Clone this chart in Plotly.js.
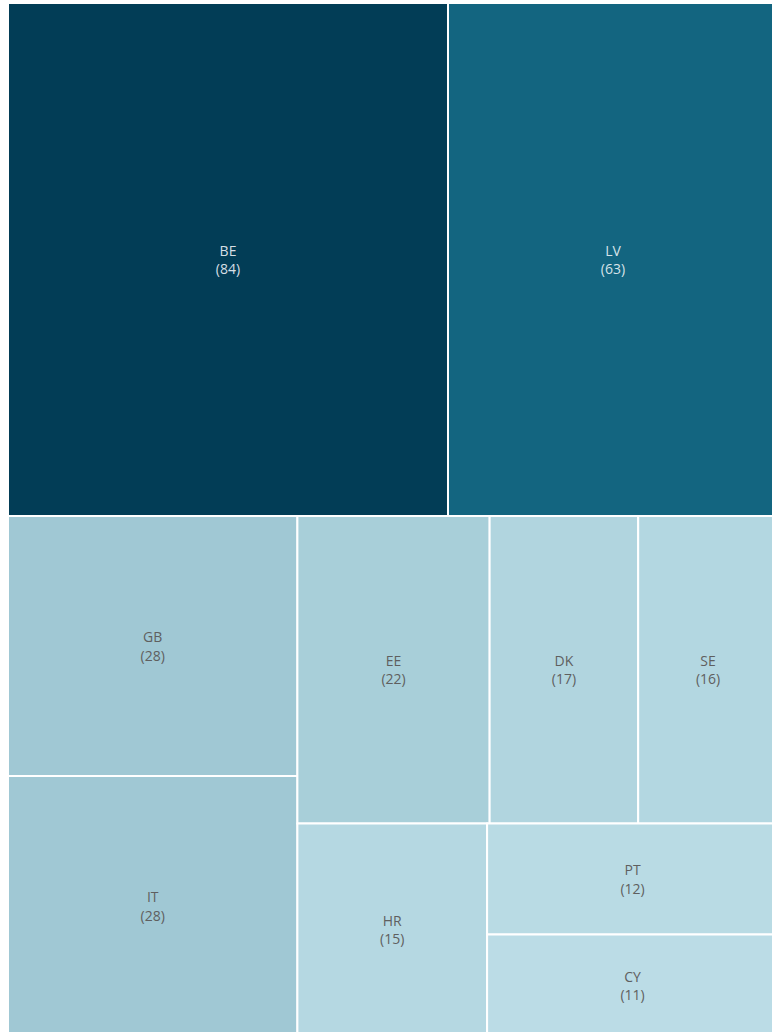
<!DOCTYPE html>
<html>
<head>
<meta charset="utf-8">
<script src="https://cdn.plot.ly/plotly-3.0.1.min.js"></script>
<style>html,body{margin:0;padding:0;background:#fff;overflow:hidden;}#chart{width:778px;height:1036px;}</style>
</head>
<body>
<div id="chart"></div>
<script>
const labels = ["BE", "LV", "GB", "IT", "EE", "DK", "SE", "HR", "PT", "CY"];
const values = [84, 63, 28, 28, 22, 17, 16, 15, 12, 11];
const colors = ["#023d56", "#136580", "#a0c8d4", "#a0c8d4", "#a8cfd9", "#b1d5df", "#b3d7e1", "#b5d8e2", "#b9dbe4", "#bbdce6"];
const textColors = ["#d6dfe5", "#d6e2e8", "#5f5f5f", "#5f5f5f", "#5f5f5f", "#5f5f5f", "#5f5f5f", "#5f5f5f", "#5f5f5f", "#5f5f5f"];

const trace = {
  type: "treemap",
  labels: labels,
  parents: labels.map(() => ""),
  values: values,
  branchvalues: "total",
  sort: true,
  texttemplate: "%{label}<br>(%{value})",
  textposition: "middle center",
  textfont: {family: "Open Sans, Lato, sans-serif", size: 14, color: textColors},
  marker: {colors: colors, line: {color: "#ffffff", width: 2}, pad: {t: 0, l: 0, r: 0, b: 0}},
  tiling: {packing: "squarify", squarifyratio: 1.618034, pad: 0},
  pathbar: {visible: false},
  hoverinfo: "label+value"
};

const layout = {
  width: 778,
  height: 1036,
  margin: {l: 8, r: 0, t: 3, b: 0},
  paper_bgcolor: "#ffffff",
  showlegend: false
};

Plotly.newPlot("chart", [trace], layout, {displayModeBar: false, staticPlot: true});
</script>
</body>
</html>
